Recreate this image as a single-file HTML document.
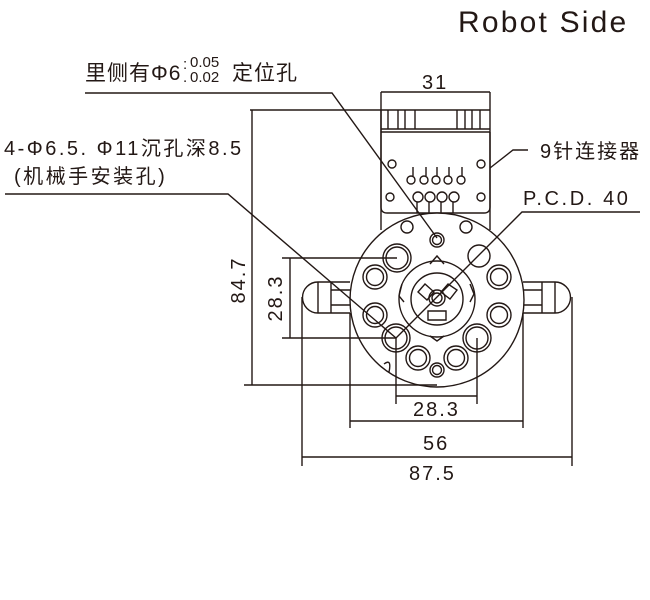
<!DOCTYPE html>
<html><head><meta charset="utf-8"><style>
html,body{margin:0;padding:0;background:#fff;}
svg{display:block;}
text{font-family:"Liberation Sans","Noto Sans CJK SC",sans-serif;fill:#231815;}
</style></head><body>
<svg width="650" height="600" viewBox="0 0 650 600" xmlns="http://www.w3.org/2000/svg">
<g fill="none" stroke="#231815" stroke-width="1.4">
<line x1="381" y1="92" x2="381" y2="230"/>
<line x1="490" y1="92" x2="490" y2="230"/>
<line x1="381" y1="92" x2="490" y2="92"/>
<line x1="381" y1="110" x2="490" y2="110"/>
<line x1="381" y1="129" x2="490" y2="129"/>
<line x1="381" y1="132" x2="490" y2="132"/>
<path d="M381 110V132M388 110V129M398 110V129M405 110V129M415 110V129M457 110V129M465 110V129M472 110V129M480 110V129"/>
<path d="M381 132V207Q381 213 387 213H484Q490 213 490 207V132"/>
<circle cx="392" cy="164" r="4"/><circle cx="481" cy="164" r="4"/>
<circle cx="390" cy="197" r="4"/><circle cx="481" cy="197" r="4"/>
<g>
<circle cx="411" cy="180" r="4"/><circle cx="424" cy="180" r="4"/><circle cx="436" cy="180" r="4"/><circle cx="448" cy="180" r="4"/><circle cx="461" cy="180" r="4"/>
<path d="M413 176V167M426 176V167M437 176V167M449 176V167M462 176V167"/>
<circle cx="418" cy="197" r="5"/><circle cx="430" cy="197" r="5"/><circle cx="442" cy="197" r="5"/><circle cx="454" cy="197" r="5"/>
<path d="M417 202V213M429 202V213M441 202V213M453 202V213"/>
</g>
<path d="M350 282H318A15.5 15.5 0 0 0 318 313H350"/>
<path d="M318 282V313M331 282V313M331 290H350M331 305H350"/>
<path d="M523 282H555A15.5 15.5 0 0 1 555 313H523"/>
<path d="M555 282V313M542 282V313M542 290H523M542 305H523"/>
<circle cx="437" cy="300" r="87" fill="#fff"/>
<circle cx="407" cy="227" r="6"/><circle cx="466" cy="227" r="6"/>
<circle cx="437" cy="240" r="7"/><circle cx="437" cy="240" r="4.5"/>
<circle cx="437" cy="370" r="7"/><circle cx="437" cy="370" r="4.5"/>
<circle cx="397" cy="258" r="14"/><circle cx="397" cy="258" r="11"/>
<circle cx="479" cy="256" r="11"/>
<circle cx="396" cy="338" r="14"/><circle cx="396" cy="338" r="11"/>
<circle cx="477" cy="338" r="14"/><circle cx="477" cy="338" r="11"/>
<g>
<circle cx="375" cy="277" r="12"/><circle cx="375" cy="277" r="8.5"/>
<circle cx="375" cy="315" r="12"/><circle cx="375" cy="315" r="8.5"/>
<circle cx="499" cy="277" r="12"/><circle cx="499" cy="277" r="8.5"/>
<circle cx="499" cy="315" r="12"/><circle cx="499" cy="315" r="8.5"/>
<circle cx="418" cy="358" r="12"/><circle cx="418" cy="358" r="8.5"/>
<circle cx="456" cy="358" r="12"/><circle cx="456" cy="358" r="8.5"/>
</g>
<path d="M384 364Q392 358 389 372"/>
<path d="M430 264L437 256L444 264M402 284L399 296L404 302M470 284L474 294L470 302M430 336L437 341L444 336"/>
<circle cx="437" cy="299" r="38"/>
<circle cx="437" cy="299" r="26"/>
<path d="M418 292L425 284L434 292L427 300ZM448 284L457 290L450 299L441 292ZM428 311H446V320H428Z"/>
<circle cx="437" cy="298" r="8"/><circle cx="437" cy="298" r="5"/>
<path d="M85 93H332L437 238"/>
<path d="M5 194H228L396 338"/>
<path d="M640 212H522L396 338"/>
<path d="M490 168L513 150H528"/>
<path d="M250 110H381"/>
<path d="M252 110V385M244 385H437"/>
<path d="M282 258H397M282 338H396M290 258V338"/>
<path d="M396 338V404M477 338V404M396 396H477"/>
<path d="M350 313V428M523 313V428M350 421H523"/>
<path d="M302 297V466M572 297V466M302 457H572"/>
</g>
<text x="458" y="32" font-size="30" letter-spacing="2.2">Robot Side</text>
<text x="85" y="80" font-size="21" letter-spacing="1">里侧有Φ6</text>
<text x="183" y="69" font-size="15">:</text>
<text x="190" y="67" font-size="15">0.05</text>
<text x="183" y="82" font-size="15">.</text>
<text x="190" y="82" font-size="15">0.02</text>
<text x="232" y="80" font-size="21" letter-spacing="1">定位孔</text>
<text x="4" y="155" font-size="20" letter-spacing="2.5">4-Φ6.5. Φ11沉孔深8.5</text>
<text x="14" y="183" font-size="20" letter-spacing="2.5">(机械手安装孔)</text>
<text x="540" y="158" font-size="20" letter-spacing="2">9针连接器</text>
<text x="523" y="205" font-size="20" letter-spacing="2.6">P.C.D. 40</text>
<text x="422" y="89" font-size="20" letter-spacing="2">31</text>
<text x="413" y="416" font-size="20" letter-spacing="2">28.3</text>
<text x="423" y="450" font-size="20" letter-spacing="2">56</text>
<text x="409" y="480" font-size="20" letter-spacing="2">87.5</text>
<text transform="translate(245,280) rotate(-90)" font-size="20" text-anchor="middle" letter-spacing="2">84.7</text>
<text transform="translate(282,298) rotate(-90)" font-size="20" text-anchor="middle" letter-spacing="2">28.3</text>
</svg>
</body></html>
